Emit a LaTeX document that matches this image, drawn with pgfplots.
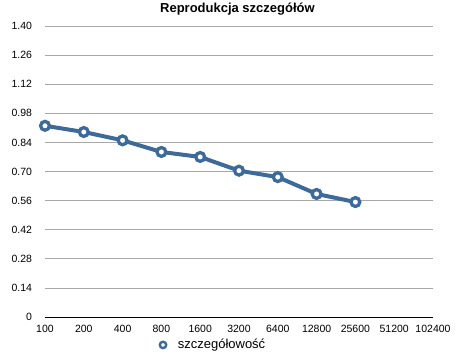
\documentclass[border=0pt]{standalone}
\usepackage{pgfplots}
\pgfplotsset{compat=1.18}
\usepackage{fontspec}
\setmainfont{Liberation Sans}
\definecolor{serblue}{HTML}{3E6A99}
\definecolor{gridgray}{HTML}{A8A8A8}
\begin{document}
\begin{tikzpicture}
\useasboundingbox (-45pt,-42pt) rectangle (412pt,317pt);
\begin{axis}[
  at={(0,0)}, anchor=south west,
  scale only axis, width=388pt, height=291pt,
  xmin=0, xmax=10, ymin=0, ymax=1.40,
  xtick={0,...,10},
  xticklabels={100,200,400,800,1600,3200,6400,12800,25600,51200,102400},
  ytick={0,0.14,0.28,0.42,0.56,0.70,0.84,0.98,1.12,1.26,1.40},
  yticklabels={0,0.14,0.28,0.42,0.56,0.70,0.84,0.98,1.12,1.26,1.40},
  /pgf/number format/assume math mode=true,
  tick label style={font=\fontsize{10.5}{12}\selectfont},
  yticklabel style={xshift=-9.5pt},
  xticklabel style={yshift=-5pt},
  major tick length=0pt,
  ymajorgrids, grid style={gridgray, line width=0.8pt},
  axis x line*=bottom, axis y line*=left,
  x axis line style={black, line width=1pt, -},
  y axis line style={draw=none},
  title={\fontsize{13}{15}\selectfont\bfseries Reprodukcja szczegółów},
  title style={at={(0.496,1)}, anchor=center, yshift=11pt},
  legend style={at={(0.433,-0.096)}, anchor=center, draw=none, fill=none,
    font=\fontsize{13}{15}\selectfont},
  legend cell align=left,
  legend image code/.code={\path[draw=none] (0,0) -- (0.6cm,0);\draw[serblue, mark=*, mark size=3.2pt, mark options={fill=white, draw=serblue, line width=2.4pt}] plot coordinates {(0.15cm,0cm)};},
  clip=false,
]
\addplot[serblue, line width=4pt, mark=*, mark size=4.4pt,
  mark options={fill=white, draw=serblue, line width=3.3pt}]
  coordinates {(0,0.920) (1,0.890) (2,0.850) (3,0.794) (4,0.770) (5,0.704) (6,0.673) (7,0.592) (8,0.553)};
\addlegendentry{szczegółowość}
\end{axis}
\end{tikzpicture}
\end{document}
